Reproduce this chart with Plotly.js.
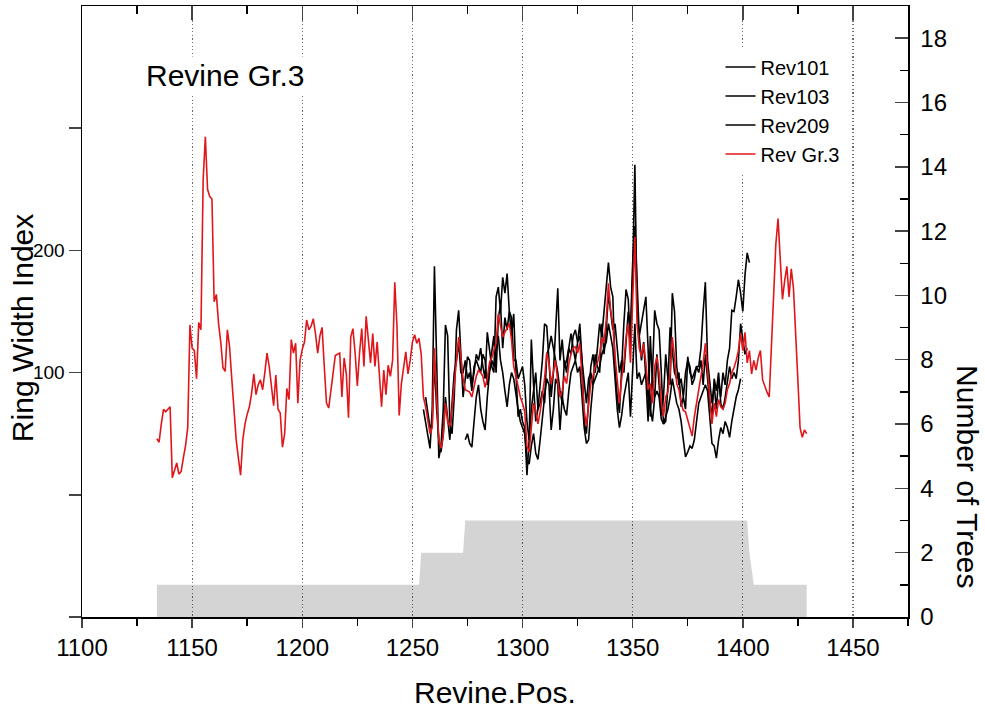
<!DOCTYPE html>
<html>
<head>
<meta charset="utf-8">
<script src="https://cdn.plot.ly/plotly-3.0.1.min.js"></script>
<style>html,body{margin:0;padding:0;background:#fff;}#chart{width:985px;height:712px;}</style>
</head>
<body>
<div id="chart"></div>
<script>
// Rev Gr.3 chronology, yearly from 1134
const grStart = 1134;
const grValues = [
46,43,58,70,68,70,72,14,20,26,17,19,30,40,55,139,120,118,95,141,
135,258,293,250,244,242,158,164,140,125,104,101,135,121,95,67,45,30,16,45,
58,66,72,83,99,82,90,94,86,100,116,105,90,73,98,70,67,39,50,87,
78,127,116,124,75,110,119,125,143,135,138,144,132,116,130,137,105,75,71,85,
100,114,115,116,80,112,99,63,129,136,116,89,116,136,105,146,127,108,132,105,
125,99,72,102,82,106,97,110,174,138,65,91,105,117,99,110,125,131,124,128,
115,80,72,60,50,55,120,80,45,38,48,75,60,56,70,90,108,129,113,95,
86,85,84,80,88,97,102,100,97,88,95,108,112,118,124,148,138,129,133,137,
140,127,105,97,88,80,75,68,40,35,55,75,69,58,68,80,95,116,108,91,
102,110,92,80,85,97,91,107,115,120,121,116,124,100,69,56,75,91,97,105,
108,115,129,124,143,173,151,140,113,91,75,95,108,129,140,108,159,211,140,120,
113,124,108,86,91,75,105,113,100,75,64,80,84,100,129,113,91,86,75,69,
68,62,56,48,64,75,86,100,108,124,102,75,58,75,64,78,72,70,75,86,
91,100,104,110,118,132,118,133,108,118,99,110,102,112,118,94,88,84,80,120,
160,205,226,190,160,175,187,162,185,169,135,94,55,47,53,50
];
const rev101Start = 1255;
const rev101Values = [
70,60,50,38,70,187,110,30,40,70,
139,130,58,50,80,135,151,120,80,95,
113,110,90,100,115,110,120,105,95,133,
120,105,100,162,170,150,178,165,181,150,
130,148,100,64,70,60,55,16,45,127,
90,60,70,90,110,140,138,110,80,100,
130,169,110,127,105,110,120,132,120,110,
125,140,110,60,50,80,105,115,100,120,
140,130,151,170,190,170,162,104,80,67,
110,140,168,160,120,180,270,150,130,140,
150,162,120,64,100,151,140,135,100,58,
60,90,137,120,100,95,100,72,80,70,
113,100,95,100,105,105,120,150,174,110,
90,75,90,70,95,80,100,90,110,120,
151,150,162,176,165,150,180,198,190
];
const rev103Start = 1256;
const rev103Values = [
80,65,55,58,110,70,45,35,50,80,
60,45,75,100,110,125,100,100,110,95,
100,85,105,110,105,100,115,110,90,105,
120,130,100,145,155,120,145,135,150,145,
110,110,95,100,105,90,60,45,70,85,
100,70,75,85,75,115,120,130,120,110,
100,85,75,110,100,120,115,130,135,125,
130,110,90,75,95,100,90,115,105,100,
140,115,135,165,150,135,140,120,100,110,
100,125,150,135,190,220,170,130,110,125,
95,60,130,90,80,115,90,65,80,115,
95,90,165,150,105,90,95,80,100,110,
105,90,95,105,100,110,90,115,95,75,
65,95,85,100,75,70,80,95,105,95,
100,95,110,140,125,115,120
];
const rev209Start = 1274;
const rev209Values = [
45,50,42,39,60,80,90,70,60,53,
80,100,110,105,120,130,110,100,85,72,
90,100,95,80,70,60,55,50,30,25,
40,50,34,29,45,60,80,95,90,53,
70,95,90,53,80,70,65,85,100,105,
110,100,105,80,55,42,45,70,90,95,
100,105,115,120,125,140,130,120,95,70,
55,65,80,90,100,64,100,140,95,100,
90,95,100,80,70,60,80,85,80,62,
58,65,70,80,95,85,75,70,60,45,
31,35,40,38,45,60,75,80,85,90,
85,60,42,40,30,45,55,50,60,55,
47,60,70,80,86,95
];
// sample depth (number of trees)
const depthYears = [1134,1253,1254,1273,1274,1402,1403,1405,1429];
const depthCounts = [1,1,2,2,3,3,2,1,1];

const seriesNames = ['Rev101','Rev103','Rev209','Rev Gr.3'];
const xTickVals = [1100,1150,1200,1250,1300,1350,1400,1450];
const leftTickVals = [-100,0,100,200,300];
const leftTickText = ['','','100','200',''];

function yearsFrom(start, arr){ return arr.map((_, i) => start + i); }

const FONT = 'Liberation Sans, Arial, sans-serif';

const traces = [
  {x: depthYears, y: depthCounts, type:'scatter', mode:'lines', fill:'tozeroy',
   fillcolor:'rgba(0,0,0,0.17)', line:{width:0, color:'rgba(0,0,0,0)'},
   xaxis:'x', yaxis:'y', showlegend:false, hoverinfo:'skip'},
  {x: yearsFrom(rev101Start, rev101Values), y: rev101Values, name: seriesNames[0], type:'scatter', mode:'lines',
   line:{color:'#000000', width:1.6}, xaxis:'x', yaxis:'y2'},
  {x: yearsFrom(rev103Start, rev103Values), y: rev103Values, name: seriesNames[1], type:'scatter', mode:'lines',
   line:{color:'#000000', width:1.6}, xaxis:'x', yaxis:'y2'},
  {x: yearsFrom(rev209Start, rev209Values), y: rev209Values, name: seriesNames[2], type:'scatter', mode:'lines',
   line:{color:'#000000', width:1.6}, xaxis:'x', yaxis:'y2'},
  {x: yearsFrom(grStart, grValues), y: grValues, name: seriesNames[3], type:'scatter', mode:'lines',
   line:{color:'#e0161b', width:1.6}, xaxis:'x', yaxis:'y2'},
  {x: [], y: [], xaxis:'x2', yaxis:'y2', showlegend:false, hoverinfo:'skip', type:'scatter', mode:'lines'}
];

const layout = {
  width: 985, height: 712,
  margin: {l:82, r:77, t:6, b:95},
  paper_bgcolor:'#ffffff', plot_bgcolor:'#ffffff',
  font: {family: FONT, color:'#000'},
  showlegend: true,
  legend: {x:0.773, y:0.932, xanchor:'left', yanchor:'top', bgcolor:'#ffffff',
           borderwidth:0, font:{family:FONT, size:20, color:'#000'}, tracegroupgap:0},
  xaxis: {range:[1100,1475], tickvals:xTickVals, ticks:'outside', ticklen:9, tickwidth:1.5,
          minor:{dtick:25, tick0:1100, ticks:'outside', ticklen:7, tickwidth:1.5, tickcolor:'#000'},
          showline:true, linecolor:'#000', linewidth:1.5, zeroline:false,
          showgrid:true, gridcolor:'#6e6e6e', gridwidth:1.2, griddash:'1.2px,2.4px',
          tickfont:{family:FONT, size:24, color:'#000'}},
  xaxis2: {overlaying:'x', side:'top', range:[1100,1475], tickvals:xTickVals, ticks:'inside', ticklen:14, tickwidth:1.5,
          minor:{dtick:25, tick0:1100, ticks:'inside', ticklen:8, tickwidth:1.5, tickcolor:'#000'},
          showticklabels:false, showline:true, linecolor:'#000', linewidth:1.5, showgrid:false, zeroline:false},
  yaxis: {side:'right', range:[0,19], dtick:2, tick0:0, ticks:'inside', ticklen:13, tickwidth:1.5,
          minor:{dtick:1, ticks:'inside', ticklen:8, tickwidth:1.5, tickcolor:'#000'},
          showline:true, linecolor:'#000', linewidth:1.5, showgrid:false, zeroline:false,
          ticklabelstandoff:6,
          tickfont:{family:FONT, size:24, color:'#000'}},
  yaxis2: {overlaying:'y', side:'left', range:[-100,400], tickvals:leftTickVals, ticktext:leftTickText,
          ticks:'outside', ticklen:12, tickwidth:1.5,
          showline:true, linecolor:'#000', linewidth:1.5, showgrid:false, zeroline:false,
          ticklabelstandoff:0,
          tickfont:{family:FONT, size:19, color:'#000'}},
  annotations: [
    {text:'Revine Gr.3', xref:'paper', yref:'paper', x:0.074, y:0.887, xanchor:'left', yanchor:'middle',
     showarrow:false, bgcolor:'#ffffff', borderpad:2, font:{family:FONT, size:30, color:'#000'}},
    {text:'Revine.Pos.', xref:'paper', yref:'paper', x:0.5, y:-0.124, xanchor:'center', yanchor:'middle',
     showarrow:false, font:{family:FONT, size:30, color:'#000'}},
    {text:'Ring Width Index', xref:'paper', yref:'paper', x:-0.072, y:0.472, xanchor:'center', yanchor:'middle',
     textangle:-90, showarrow:false, font:{family:FONT, size:30, color:'#000'}},
    {text:'Number of Trees', xref:'paper', yref:'paper', x:1.0726, y:0.229, xanchor:'center', yanchor:'middle',
     textangle:90, showarrow:false, font:{family:FONT, size:30, color:'#000'}}
  ]
};

Plotly.newPlot('chart', traces, layout, {staticPlot:true, displayModeBar:false});
</script>
</body>
</html>
